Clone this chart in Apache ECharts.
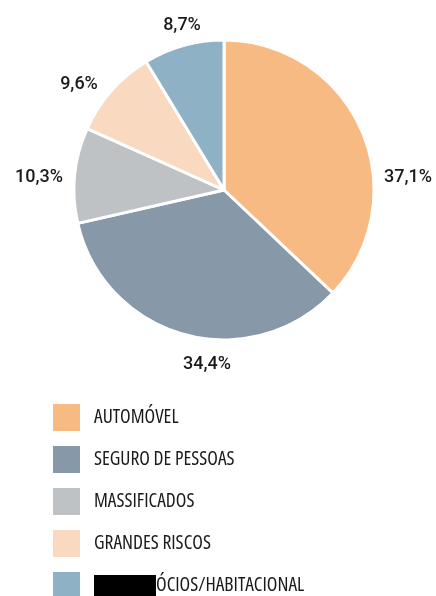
<!DOCTYPE html>
<html>
<head>
<meta charset="utf-8">
<script src="https://cdn.jsdelivr.net/npm/echarts@6/dist/echarts.min.js"></script>
<style>
  html, body { margin: 0; padding: 0; background: #fff; }
  #chart { width: 436px; height: 596px; }
</style>
</head>
<body>
<div id="chart"></div>
<script>
const categories = ['AUTOMÓVEL', 'SEGURO DE PESSOAS', 'MASSIFICADOS', 'GRANDES RISCOS', 'ÓCIOS/HABITACIONAL']
const shares = [37.1, 34.4, 10.3, 9.6, 8.7]
const colors = ['#F8BA83', '#8798A9', '#BFC2C5', '#FAD9C1', '#8FB1C5']

// where each percentage label sits (centre of text)
const labelSpots = [[408, 177], [207, 364], [39, 177], [79, 84], [182, 25]]

const chart = echarts.init(document.getElementById('chart'))

chart.setOption({
  animation: false,
  color: colors,
  legend: {
    orient: 'vertical',
    left: 51,
    top: 402,
    height: 230,
    padding: 0,
    itemWidth: 29,
    itemHeight: 29,
    itemGap: 11,
    icon: 'rect',
    selectedMode: false,
    data: categories,
    // the last name is blacked out at its start in the source
    formatter: (name) => name === categories[4] ? '{r|}' + name : name,
    textStyle: {
      fontFamily: '"Open Sans", sans-serif',
      fontStyle: 'condensed',
      fontSize: 19.5,
      color: '#1a1a1a',
      padding: [0, 0, 0, 8],
      rich: {
        r: { backgroundColor: '#000', width: 62, height: 21 },
      },
    },
  },
  series: [{
    type: 'pie',
    center: [224, 190],
    radius: 150,
    startAngle: 90,
    itemStyle: { borderColor: '#fff', borderWidth: 3 },
    labelLine: { show: false },
    label: {
      position: 'outside',
      overflow: 'none',
      formatter: (p) => String(p.value).replace('.', ',') + '%',
      fontFamily: 'Roboto, sans-serif',
      fontSize: 18,
      fontWeight: 500,
      color: '#1a1a1a',
    },
    labelLayout: (p) => ({
      x: labelSpots[p.dataIndex][0],
      y: labelSpots[p.dataIndex][1],
      align: 'center',
      verticalAlign: 'middle',
    }),
    data: categories.map((name, i) => ({ name, value: shares[i] })),
  }],
})
</script>
</body>
</html>
